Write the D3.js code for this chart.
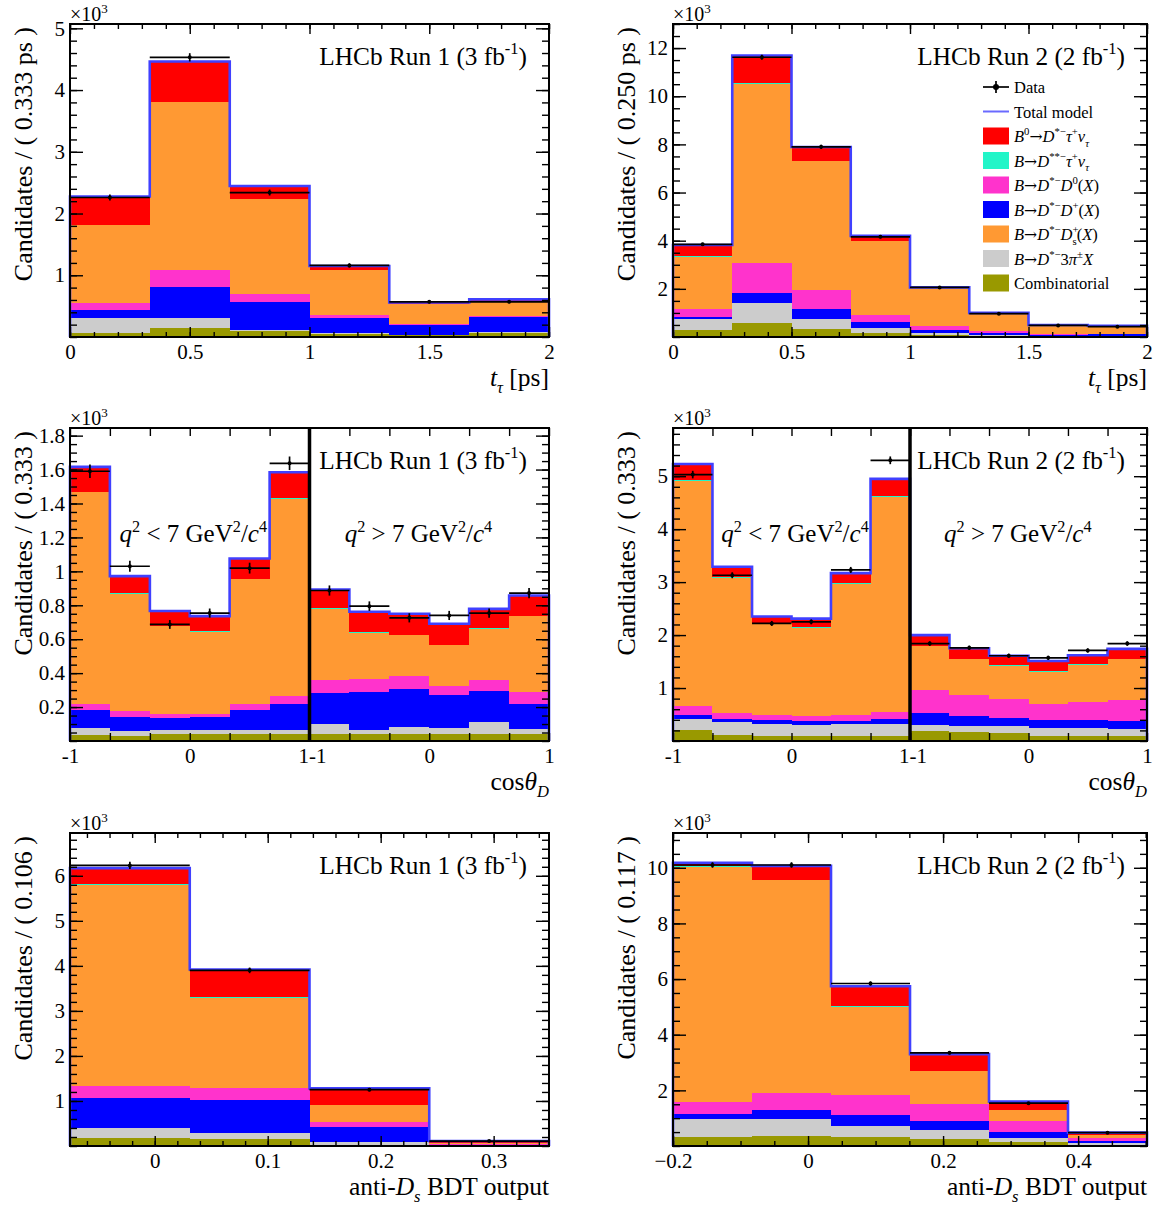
<!DOCTYPE html>
<html><head><meta charset="utf-8">
<script src="https://cdn.jsdelivr.net/npm/d3@7"></script>
<style>body{margin:0;background:#fff}</style>
</head><body>
<svg id="c" width="1159" height="1205"></svg>
<script>
// ---------------- DATA (values in units of 10^3 candidates) ----------------
const componentKeys = ["comb","pi3","dp","d0","ds","dss","sig"];
const componentLabels = ["Combinatorial","B→D*−3π±X","B→D*−D+(X)","B→D*−D0(X)","B→D*−Ds+(X)","B→D**−τ+ντ","B0→D*−τ+ντ"];

// Run 1, t_tau
const t1_edges = [0, 0.333, 0.667, 1.0, 1.333, 1.667, 2.0];
const t1_comb = [0.067, 0.15, 0.10, 0.05, 0.025, 0.07];
const t1_pi3  = [0.233, 0.15, 0.02, 0.02, 0.01, 0.01];
const t1_dp   = [0.13, 0.51, 0.44, 0.23, 0.155, 0.24];
const t1_d0   = [0.12, 0.28, 0.13, 0.05, 0.02, 0.02];
const t1_ds   = [1.26, 2.71, 1.54, 0.73, 0.33, 0.23];
const t1_dss  = [0.007, 0.012, 0.007, 0.004, 0.002, 0.002];
const t1_sig  = [0.46, 0.65, 0.21, 0.065, 0.017, 0.037];
const t1_data = [2.26, 4.53, 2.34, 1.16, 0.57, 0.57];
const t1_err  = [0.048, 0.067, 0.048, 0.034, 0.024, 0.024];
const t1_xTicks = [0, 0.5, 1, 1.5, 2];
const t1_yTicks = [1, 2, 3, 4, 5];

// Run 2, t_tau
const t2_edges = [0, 0.25, 0.5, 0.75, 1.0, 1.25, 1.5, 1.75, 2.0];
const t2_comb = [0.30, 0.59, 0.34, 0.16, 0.10, 0.06, 0.04, 0.04];
const t2_pi3  = [0.43, 0.84, 0.42, 0.21, 0.06, 0.03, 0.02, 0.02];
const t2_dp   = [0.10, 0.40, 0.42, 0.25, 0.15, 0.08, 0.03, 0.06];
const t2_d0   = [0.35, 1.26, 0.79, 0.31, 0.14, 0.06, 0.03, 0.01];
const t2_ds   = [2.16, 7.40, 5.34, 3.06, 1.59, 0.74, 0.36, 0.31];
const t2_dss  = [0.02, 0.04, 0.02, 0.01, 0.005, 0.003, 0.002, 0.002];
const t2_sig  = [0.46, 1.16, 0.56, 0.20, 0.015, 0.027, 0.018, 0.028];
const t2_data = [3.85, 11.62, 7.90, 4.16, 2.06, 0.97, 0.48, 0.43];
const t2_err  = [0.062, 0.108, 0.089, 0.064, 0.045, 0.031, 0.022, 0.021];
const t2_xTicks = [0, 0.5, 1, 1.5, 2];
const t2_yTicks = [2, 4, 6, 8, 10, 12];

// cos(theta_D): 6 bins for q2<7 then 6 bins for q2>7
const cos_edges = [-1, -0.667, -0.333, 0, 0.333, 0.667, 1];
const cos_labels = [-1, 0, 1];
const c1_comb = [0.033,0.027,0.039,0.039,0.039,0.039, 0.043,0.039,0.039,0.039,0.039,0.043];
const c1_pi3  = [0.046,0.030,0.024,0.024,0.028,0.028, 0.059,0.024,0.043,0.038,0.073,0.030];
const c1_dp   = [0.101,0.084,0.072,0.078,0.113,0.153, 0.181,0.226,0.226,0.192,0.181,0.143];
const c1_d0   = [0.040,0.036,0.026,0.020,0.040,0.043, 0.078,0.074,0.073,0.055,0.064,0.073];
const c1_ds   = [1.246,0.691,0.516,0.483,0.732,1.166, 0.418,0.275,0.243,0.239,0.304,0.447];
const c1_dss  = [0.003,0.003,0.003,0.003,0.003,0.003, 0.003,0.003,0.003,0.003,0.003,0.003];
const c1_sig  = [0.147,0.101,0.086,0.089,0.121,0.152, 0.111,0.121,0.123,0.125,0.115,0.119];
const c1_data = [1.59,1.03,0.687,0.754,1.019,1.637, 0.887,0.795,0.726,0.74,0.754,0.872];
const c1_err  = [0.040,0.032,0.026,0.027,0.032,0.040, 0.030,0.028,0.027,0.027,0.027,0.030];
const c1_yTicks = [0.2,0.4,0.6,0.8,1,1.2,1.4,1.6,1.8];

const c2_comb = [0.20,0.12,0.10,0.09,0.09,0.09, 0.19,0.17,0.15,0.09,0.09,0.09];
const c2_pi3  = [0.22,0.24,0.23,0.22,0.23,0.23, 0.12,0.12,0.13,0.15,0.16,0.14];
const c2_dp   = [0.08,0.06,0.06,0.07,0.06,0.09, 0.22,0.19,0.16,0.15,0.14,0.15];
const c2_d0   = [0.16,0.11,0.10,0.09,0.11,0.14, 0.44,0.39,0.35,0.30,0.35,0.39];
const c2_ds   = [4.25,2.55,1.73,1.67,2.48,4.06, 0.82,0.67,0.63,0.62,0.70,0.77];
const c2_dss  = [0.01,0.01,0.01,0.01,0.01,0.01, 0.01,0.01,0.01,0.01,0.01,0.01];
const c2_sig  = [0.31,0.20,0.12,0.16,0.19,0.33, 0.20,0.20,0.18,0.19,0.17,0.19];
const c2_data = [5.03,3.13,2.22,2.25,3.23,5.30, 1.84,1.76,1.61,1.57,1.71,1.84];
const c2_err  = [0.071,0.056,0.047,0.047,0.057,0.073, 0.043,0.042,0.040,0.040,0.041,0.043];
const c2_yTicks = [1,2,3,4,5];

// anti-Ds BDT output
const b1_edges = [-0.075, 0.031, 0.137, 0.243, 0.349];
const b1_comb = [0.18, 0.16, 0.03, 0.01];
const b1_pi3  = [0.21, 0.13, 0.05, 0.01];
const b1_dp   = [0.68, 0.73, 0.34, 0.01];
const b1_d0   = [0.27, 0.26, 0.11, 0.02];
const b1_ds   = [4.46, 2.01, 0.37, 0.02];
const b1_dss  = [0.012, 0.01, 0.006, 0.001];
const b1_sig  = [0.358, 0.62, 0.374, 0.039];
const b1_data = [6.23, 3.90, 1.25, 0.11];
const b1_err  = [0.079, 0.062, 0.035, 0.010];
const b1_xTicks = [0, 0.1, 0.2, 0.3];
const b1_yTicks = [1,2,3,4,5,6];

const b2_edges = [-0.2, -0.083, 0.034, 0.151, 0.268, 0.385, 0.502];
const b2_comb = [0.32, 0.36, 0.32, 0.26, 0.14, 0.05];
const b2_pi3  = [0.66, 0.62, 0.40, 0.30, 0.16, 0.06];
const b2_dp   = [0.18, 0.30, 0.38, 0.34, 0.20, 0.07];
const b2_d0   = [0.42, 0.64, 0.72, 0.60, 0.40, 0.12];
const b2_ds   = [8.45, 7.63, 3.18, 1.20, 0.38, 0.08];
const b2_dss  = [0.02, 0.02, 0.02, 0.012, 0.006, 0.002];
const b2_sig  = [0.13, 0.50, 0.72, 0.59, 0.31, 0.098];
const b2_data = [10.1, 10.1, 5.84, 3.35, 1.54, 0.48];
const b2_err  = [0.10, 0.10, 0.076, 0.058, 0.039, 0.022];
const b2_xTicks = [-0.2, 0, 0.2, 0.4];
const b2_yTicks = [2,4,6,8,10];

// ---------------- STYLE / LAYOUT ----------------
const FONT = "'Liberation Serif','Times New Roman',serif";
const ARROW_FONT = "'DejaVu Serif',serif";
const COLORS = {comb:"#999900", pi3:"#cccccc", dp:"#0000ff", d0:"#ff33cc", ds:"#ff9933", dss:"#22f5c8", sig:"#ff0000"};
const MODEL_COLOR = "#4040ff";
const colX = [[70,549],[673,1147]];
const rowY = [[24,337],[428,741],[833,1146]];

const svg = d3.select("#c");

function rich(sel, parts, size) {
  let prev = 0;
  parts.forEach(p => {
    const off = p.sup ? -size*0.42 : (p.sub ? size*0.28 : 0);
    const ts = sel.append("tspan").text(p.t).attr("dy", off - prev);
    if (p.sup || p.sub) ts.attr("font-size", size*0.65);
    if (p.it) ts.attr("font-style","italic");
    if (p.dx) ts.attr("dx", p.dx);
    if (p.arrow) ts.attr("font-family", ARROW_FONT).attr("font-size", size*0.95);
    prev = off;
  });
  return sel;
}

const panels = [
  {col:0,row:0, ymax:5.07, yTicks:t1_yTicks, yMinor:0.2, xDomain:[0,2], edges:t1_edges, xTicks:t1_xTicks, xMinor:0.1,
   comps:{comb:t1_comb,pi3:t1_pi3,dp:t1_dp,d0:t1_d0,ds:t1_ds,dss:t1_dss,sig:t1_sig}, data:t1_data, err:t1_err,
   ytitle:"Candidates / ( 0.333 ps )", xtitle:"t", run:"1", lumi:"3"},
  {col:1,row:0, ymax:13.0, yTicks:t2_yTicks, yMinor:0.5, xDomain:[0,2], edges:t2_edges, xTicks:t2_xTicks, xMinor:0.1,
   comps:{comb:t2_comb,pi3:t2_pi3,dp:t2_dp,d0:t2_d0,ds:t2_ds,dss:t2_dss,sig:t2_sig}, data:t2_data, err:t2_err,
   ytitle:"Candidates / ( 0.250 ps )", xtitle:"t", run:"2", lumi:"2", legend:true},
  {col:0,row:1, ymax:1.845, yTicks:c1_yTicks, yMinor:0.05, split:true,
   comps:{comb:c1_comb,pi3:c1_pi3,dp:c1_dp,d0:c1_d0,ds:c1_ds,dss:c1_dss,sig:c1_sig}, data:c1_data, err:c1_err,
   ytitle:"Candidates / ( 0.333 )", xtitle:"cos", run:"1", lumi:"3"},
  {col:1,row:1, ymax:5.91, yTicks:c2_yTicks, yMinor:0.2, split:true,
   comps:{comb:c2_comb,pi3:c2_pi3,dp:c2_dp,d0:c2_d0,ds:c2_ds,dss:c2_dss,sig:c2_sig}, data:c2_data, err:c2_err,
   ytitle:"Candidates / ( 0.333 )", xtitle:"cos", run:"2", lumi:"2"},
  {col:0,row:2, ymax:6.95, yTicks:b1_yTicks, yMinor:0.2, xDomain:[-0.075,0.349], edges:b1_edges, xTicks:b1_xTicks, xMinor:0.02,
   comps:{comb:b1_comb,pi3:b1_pi3,dp:b1_dp,d0:b1_d0,ds:b1_ds,dss:b1_dss,sig:b1_sig}, data:b1_data, err:b1_err,
   ytitle:"Candidates / ( 0.106 )", xtitle:"bdt", run:"1", lumi:"3"},
  {col:1,row:2, ymax:11.25, yTicks:b2_yTicks, yMinor:0.5, xDomain:[-0.2,0.502], edges:b2_edges, xTicks:b2_xTicks, xMinor:0.05,
   comps:{comb:b2_comb,pi3:b2_pi3,dp:b2_dp,d0:b2_d0,ds:b2_ds,dss:b2_dss,sig:b2_sig}, data:b2_data, err:b2_err,
   ytitle:"Candidates / ( 0.117 )", xtitle:"bdt", run:"2", lumi:"2"}
];

function styleAxis(a) {
  a.select(".domain").remove();
  a.selectAll("line").attr("stroke","#000").attr("stroke-width",1.4);
  a.selectAll("text").attr("font-family",FONT).attr("font-size",21).attr("fill","#000");
  return a;
}

function minorRange(lo, hi, step) {
  const out = [];
  const s = Math.ceil(lo/step - 1e-6);
  for (let k = s; k*step <= hi + 1e-9; k++) out.push(+(k*step).toFixed(6));
  return out;
}

function drawPanel(p) {
  const [X0,X1] = colX[p.col], [T,B] = rowY[p.row];
  const g = svg.append("g");
  const y = d3.scaleLinear().domain([0,p.ymax]).range([B,T]);
  let bins, xScales = [];
  const XM = (X0+X1)/2;
  if (p.split) {
    const xL = d3.scaleLinear().domain([-1,1]).range([X0,XM]);
    const xR = d3.scaleLinear().domain([-1,1]).range([XM,X1]);
    xScales = [xL,xR];
    bins = d3.range(12).map(i => { const s = i<6 ? xL : xR, j = i%6; return [s(cos_edges[j]), s(cos_edges[j+1])]; });
  } else {
    const x = d3.scaleLinear().domain(p.xDomain).range([X0,X1]);
    xScales = [x];
    bins = d3.range(p.edges.length-1).map(i => [x(p.edges[i]), x(p.edges[i+1])]);
  }
  const rows = bins.map((b,i) => { const r = {}; componentKeys.forEach(k => r[k] = p.comps[k][i]); return r; });
  const series = d3.stack().keys(componentKeys)(rows);

  // stacked fills
  g.append("g").selectAll("g").data(series).join("g")
    .attr("fill", d => COLORS[d.key])
    .selectAll("rect").data(d => d.map((v,i) => ({v,i}))).join("rect")
    .attr("x", d => bins[d.i][0]).attr("width", d => bins[d.i][1]-bins[d.i][0])
    .attr("y", d => y(d.v[1])).attr("height", d => Math.max(0, y(d.v[0]) - y(d.v[1])))
    .attr("shape-rendering","crispEdges");

  // total model
  const totals = series[series.length-1].map(v => v[1]);
  const pts = [[X0, y(0)]];
  bins.forEach((b,i) => { pts.push([b[0], y(totals[i])]); pts.push([b[1], y(totals[i])]); });
  pts.push([X1, y(0)]);
  g.append("path").attr("d", d3.line()(pts)).attr("fill","none")
    .attr("stroke", MODEL_COLOR).attr("stroke-width", 2.6).attr("stroke-linejoin","miter");

  // data points
  const dg = g.append("g").attr("stroke","#000").attr("stroke-width",1.7);
  p.data.forEach((v,i) => {
    const b = bins[i], cx = (b[0]+b[1])/2;
    dg.append("line").attr("x1",b[0]).attr("x2",b[1]).attr("y1",y(v)).attr("y2",y(v));
    dg.append("line").attr("x1",cx).attr("x2",cx).attr("y1",y(v-p.err[i])).attr("y2",y(v+p.err[i]));
    dg.append("circle").attr("cx",cx).attr("cy",y(v)).attr("r",2).attr("fill","#000").attr("stroke","none");
  });

  // y axes
  const yMinor = minorRange(0, p.ymax, p.yMinor);
  styleAxis(g.append("g").attr("transform",`translate(${X0},0)`)
    .call(d3.axisLeft(y).tickValues(yMinor).tickSize(-7).tickFormat("")));
  styleAxis(g.append("g").attr("transform",`translate(${X0},0)`)
    .call(d3.axisLeft(y).tickValues(p.yTicks).tickSize(-13).tickPadding(5).tickFormat(d3.format("~g"))));
  styleAxis(g.append("g").attr("transform",`translate(${X1},0)`)
    .call(d3.axisRight(y).tickValues(yMinor).tickSize(-7).tickFormat("")));
  styleAxis(g.append("g").attr("transform",`translate(${X1},0)`)
    .call(d3.axisRight(y).tickValues(p.yTicks).tickSize(-13).tickFormat("")));

  // x axes
  if (p.split) {
    xScales.forEach((s, h) => {
      const ab = styleAxis(g.append("g").attr("transform",`translate(0,${B})`)
        .call(d3.axisBottom(s).tickValues(cos_edges).tickSize(-8).tickPadding(7)
          .tickFormat(v => cos_labels.includes(v) ? String(v) : "")));
      ab.selectAll("text").filter(v => (h===0 && v===1)).attr("text-anchor","end").attr("dx",-1);
      ab.selectAll("text").filter(v => (h===1 && v===-1)).attr("text-anchor","start").attr("dx",-1);
      styleAxis(g.append("g").attr("transform",`translate(0,${T})`)
        .call(d3.axisTop(s).tickValues(cos_edges).tickSize(-8).tickFormat("")));
    });
  } else {
    const x = xScales[0];
    const xMinor = minorRange(p.xDomain[0], p.xDomain[1], p.xMinor);
    const fmt = v => (v < 0 ? "\u2212" : "") + d3.format("~g")(Math.abs(v));
    styleAxis(g.append("g").attr("transform",`translate(0,${B})`)
      .call(d3.axisBottom(x).tickValues(xMinor).tickSize(-5).tickFormat("")));
    styleAxis(g.append("g").attr("transform",`translate(0,${B})`)
      .call(d3.axisBottom(x).tickValues(p.xTicks).tickSize(-10).tickPadding(7).tickFormat(fmt)));
    styleAxis(g.append("g").attr("transform",`translate(0,${T})`)
      .call(d3.axisTop(x).tickValues(xMinor).tickSize(-5).tickFormat("")));
    styleAxis(g.append("g").attr("transform",`translate(0,${T})`)
      .call(d3.axisTop(x).tickValues(p.xTicks).tickSize(-10).tickFormat("")));
  }

  // frame
  g.append("rect").attr("x",X0).attr("y",T).attr("width",X1-X0).attr("height",B-T)
    .attr("fill","none").attr("stroke","#000").attr("stroke-width",2);
  if (p.split) {
    g.append("line").attr("x1",XM).attr("x2",XM).attr("y1",T).attr("y2",B)
      .attr("stroke","#000").attr("stroke-width",3.5);
    const xL = xScales[0], xR = xScales[1];
    rich(g.append("text").attr("x", xL(0.03)).attr("y", T+114).attr("text-anchor","middle")
      .attr("font-family",FONT).attr("font-size",25),
      [{t:"q",it:true},{t:"2",sup:true},{t:" < 7 GeV"},{t:"2",sup:true},{t:"/"},{t:"c",it:true},{t:"4",sup:true}], 25);
    rich(g.append("text").attr("x", xR(-0.09)).attr("y", T+114).attr("text-anchor","middle")
      .attr("font-family",FONT).attr("font-size",25),
      [{t:"q",it:true},{t:"2",sup:true},{t:" > 7 GeV"},{t:"2",sup:true},{t:"/"},{t:"c",it:true},{t:"4",sup:true}], 25);
  }

  // x10^3
  rich(g.append("text").attr("x",X0).attr("y",T-3).attr("font-family",FONT).attr("font-size",20),
    [{t:"\u00d710"},{t:"3",sup:true}], 20);

  // y title
  g.append("text").attr("transform",`translate(${X0-38},${T+3}) rotate(-90)`)
    .attr("text-anchor","end").attr("font-family",FONT).attr("font-size",26).text(p.ytitle);

  // x title
  const XF = 25.5;
  const xt = g.append("text").attr("x",X1).attr("y",B+49).attr("text-anchor","end")
    .attr("font-family",FONT).attr("font-size",XF);
  if (p.xtitle === "t") rich(xt, [{t:"t",it:true},{t:"\u03c4",it:true,sub:true},{t:" [ps]"}], XF);
  else if (p.xtitle === "cos") rich(xt, [{t:"cos"},{t:"\u03b8",it:true},{t:"D",it:true,sub:true}], XF);
  else rich(xt, [{t:"anti-"},{t:"D",it:true},{t:"s",it:true,sub:true},{t:" BDT output"}], XF);

  // LHCb label
  rich(g.append("text").attr("x",X1-22).attr("y",T+41).attr("text-anchor","end")
    .attr("font-family",FONT).attr("font-size",25.3),
    [{t:`LHCb Run ${p.run} (${p.lumi} fb`},{t:"-1",sup:true},{t:")"}], 25.3);

  if (p.legend) drawLegend(g, X0, X1, T);
}

function drawLegend(g, X0, X1, T) {
  const sx = X1 - 164, tx = sx + 31, fs = 16.5;
  const rowYs = d3.range(9).map(i => T + 63 + i*24.5);
  const A = {t:"\u2192", arrow:true};
  const entries = [
    {type:"data", parts:[{t:"Data"}]},
    {type:"model", parts:[{t:"Total model"}]},
    {type:"box", key:"sig", parts:[{t:"B",it:true},{t:"0",sup:true},A,{t:"D",it:true},{t:"*\u2212",sup:true},{t:"\u03c4",it:true},{t:"+",sup:true},{t:"\u03bd",it:true},{t:"\u03c4",it:true,sub:true}]},
    {type:"box", key:"dss", parts:[{t:"B",it:true},A,{t:"D",it:true},{t:"**\u2212",sup:true},{t:"\u03c4",it:true},{t:"+",sup:true},{t:"\u03bd",it:true},{t:"\u03c4",it:true,sub:true}]},
    {type:"box", key:"d0", parts:[{t:"B",it:true},A,{t:"D",it:true},{t:"*\u2212",sup:true},{t:"D",it:true},{t:"0",sup:true},{t:"("},{t:"X",it:true},{t:")"}]},
    {type:"box", key:"dp", parts:[{t:"B",it:true},A,{t:"D",it:true},{t:"*\u2212",sup:true},{t:"D",it:true},{t:"+",sup:true},{t:"("},{t:"X",it:true},{t:")"}]},
    {type:"box", key:"ds", parts:[{t:"B",it:true},A,{t:"D",it:true},{t:"*\u2212",sup:true},{t:"D",it:true},{t:"+",sup:true},{t:"s",sub:true,dx:-6},{t:"("},{t:"X",it:true},{t:")"}]},
    {type:"box", key:"pi3", parts:[{t:"B",it:true},A,{t:"D",it:true},{t:"*\u2212",sup:true},{t:"3"},{t:"\u03c0",it:true},{t:"\u00b1",sup:true},{t:"X",it:true}]},
    {type:"box", key:"comb", parts:[{t:"Combinatorial"}]}
  ];
  entries.forEach((e,i) => {
    const cy = rowYs[i];
    if (e.type === "data") {
      g.append("line").attr("x1",sx).attr("x2",sx+26).attr("y1",cy).attr("y2",cy).attr("stroke","#000").attr("stroke-width",1.7);
      g.append("line").attr("x1",sx+13).attr("x2",sx+13).attr("y1",cy-6).attr("y2",cy+6).attr("stroke","#000").attr("stroke-width",1.7);
      g.append("circle").attr("cx",sx+13).attr("cy",cy).attr("r",3).attr("fill","#000");
    } else if (e.type === "model") {
      g.append("line").attr("x1",sx).attr("x2",sx+26).attr("y1",cy).attr("y2",cy).attr("stroke","#6a6aff").attr("stroke-width",2);
    } else {
      g.append("rect").attr("x",sx).attr("y",cy-8.5).attr("width",26).attr("height",17).attr("fill",COLORS[e.key]);
    }
    rich(g.append("text").attr("x",tx).attr("y",cy+6).attr("font-family",FONT).attr("font-size",fs), e.parts, fs);
  });
}

panels.forEach(drawPanel);
</script></body></html>
